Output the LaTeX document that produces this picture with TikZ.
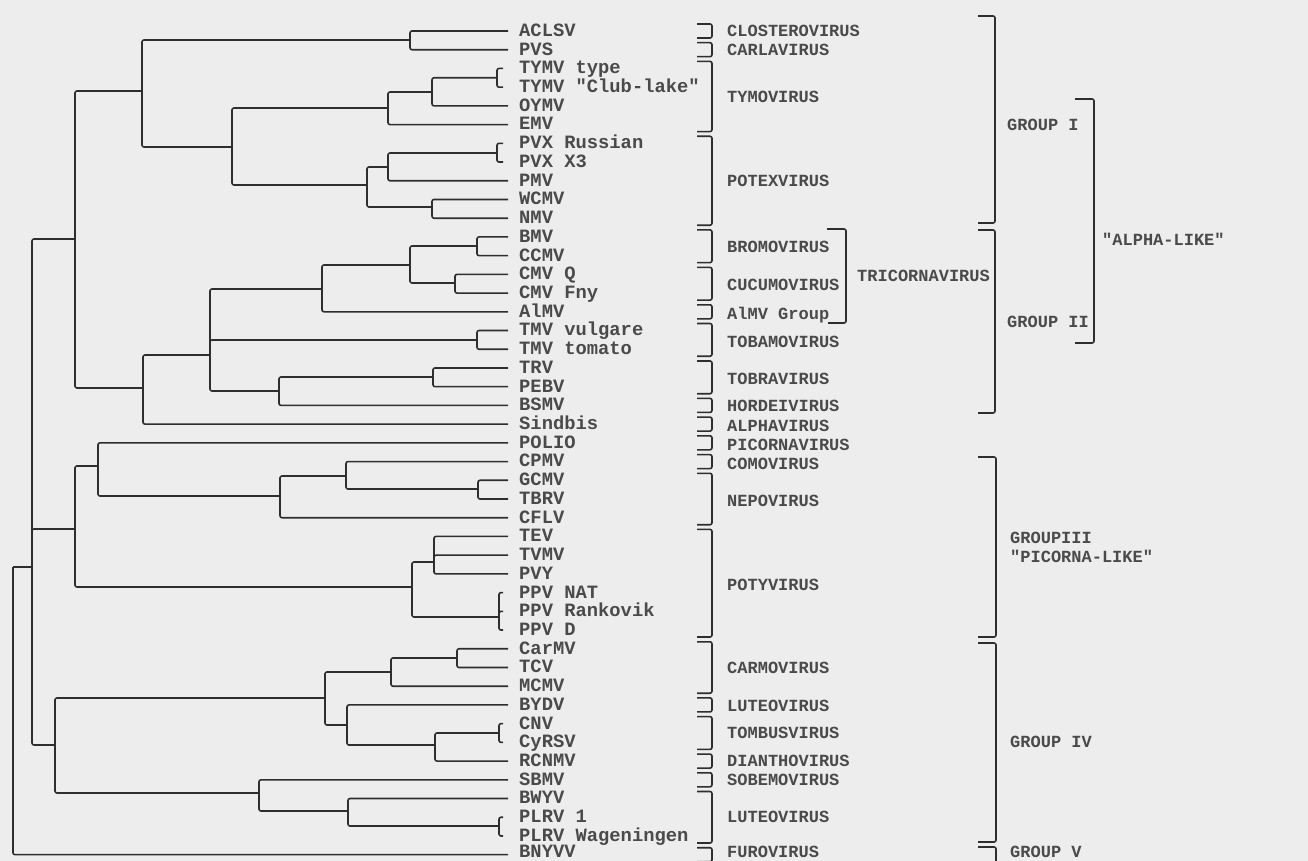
\documentclass[tikz,border=0pt]{standalone}
\usepackage{fontspec}
\newfontfamily\typ{Liberation Mono}
\definecolor{bgc}{HTML}{EDEDED}
\definecolor{linec}{HTML}{2E2E2E}
\definecolor{textc}{HTML}{4A4A4A}
\tikzset{
  br/.style={line width=1.6pt, draw=linec, rounded corners=2pt},
  leaflab/.style={anchor=base west, inner sep=0pt, text=textc, font=\typ\bfseries\fontsize{18.8}{20}\selectfont},
  genlab/.style={anchor=base west, inner sep=0pt, text=textc, font=\typ\bfseries\fontsize{17}{19}\selectfont},
}
\newcommand\leafnode[4]{% name, y, text, end x
  \coordinate (#1) at (#4,#2);
  \node[leaflab] (#1t) at (519,{#2+5.4}) {#3};}
\newcommand\genusbr[5]{% name, top, bottom, label y, text
  \draw[br] (697,#2) -- (712,#2) -- (712,#3) -- (697,#3);
  \node[genlab] (#1) at (727,{#4+4.9}) {#5};}
\begin{document}
\begin{tikzpicture}[x=1pt,y=-1pt]
\fill[bgc] (0,0) rectangle (1308,861);
\useasboundingbox (0,0) rectangle (1308,861);

% ---------- leaves ----------
\leafnode{L1}{31}{ACLSV}{508}
\leafnode{L2}{49.72}{PVS}{508}
\leafnode{L3}{68.44}{TYMV type}{503}
\leafnode{L4}{87.16}{TYMV "Club-lake"}{503}
\leafnode{L5}{105.88}{OYMV}{508}
\leafnode{L6}{124.6}{EMV}{508}
\leafnode{L7}{143.32}{PVX Russian}{503}
\leafnode{L8}{162.04}{PVX X3}{503}
\leafnode{L9}{180.76}{PMV}{508}
\leafnode{L10}{199.48}{WCMV}{508}
\leafnode{L11}{218.2}{NMV}{508}
\leafnode{L12}{236.92}{BMV}{508}
\leafnode{L13}{255.64}{CCMV}{508}
\leafnode{L14}{274.36}{CMV Q}{508}
\leafnode{L15}{293.08}{CMV Fny}{508}
\leafnode{L16}{311.8}{AlMV}{508}
\leafnode{L17}{330.52}{TMV vulgare}{508}
\leafnode{L18}{349.24}{TMV tomato}{508}
\leafnode{L19}{367.96}{TRV}{508}
\leafnode{L20}{386.68}{PEBV}{508}
\leafnode{L21}{405.4}{BSMV}{508}
\leafnode{L22}{424.12}{Sindbis}{508}
\leafnode{L23}{442.84}{POLIO}{508}
\leafnode{L24}{461.56}{CPMV}{508}
\leafnode{L25}{480.28}{GCMV}{508}
\leafnode{L26}{499}{TBRV}{508}
\leafnode{L27}{517.72}{CFLV}{508}
\leafnode{L28}{536.44}{TEV}{508}
\leafnode{L29}{555.16}{TVMV}{508}
\leafnode{L30}{573.88}{PVY}{508}
\leafnode{L31}{592.6}{PPV NAT}{503}
\leafnode{L32}{611.32}{PPV Rankovik}{503}
\leafnode{L33}{630.04}{PPV D}{503}
\leafnode{L34}{648.76}{CarMV}{508}
\leafnode{L35}{667.48}{TCV}{508}
\leafnode{L36}{686.2}{MCMV}{508}
\leafnode{L37}{704.92}{BYDV}{508}
\leafnode{L38}{723.64}{CNV}{503}
\leafnode{L39}{742.36}{CyRSV}{503}
\leafnode{L40}{761.08}{RCNMV}{508}
\leafnode{L41}{779.8}{SBMV}{508}
\leafnode{L42}{798.52}{BWYV}{508}
\leafnode{L43}{817.24}{PLRV 1}{503}
\leafnode{L44}{835.96}{PLRV Wageningen}{503}
\coordinate (L45) at (508,854.68);
\node[leaflab] (L45t) at (519,857.6) {BNYVV};

% ---------- internal nodes ----------
\coordinate (nA) at (410,40);
\coordinate (nTY) at (497,77.8);
\coordinate (n432a) at (432,92);
\coordinate (n388a) at (388,108);
\coordinate (nPX) at (497,153);
\coordinate (n388b) at (388,167);
\coordinate (n432b) at (432,207);
\coordinate (n367) at (367,185);
\coordinate (n232) at (232,147);
\coordinate (n142) at (142,91);
\coordinate (n477a) at (477,246);
\coordinate (n455) at (455,283);
\coordinate (n410b) at (410,265);
\coordinate (n322) at (322,289);
\coordinate (n477b) at (477,340);
\coordinate (n433) at (433,377);
\coordinate (n279) at (279,391);
\coordinate (n210) at (210,355);
\coordinate (n143) at (143,388);
\coordinate (n75a) at (75,239);
\coordinate (n478) at (478,489);
\coordinate (n346) at (346,476);
\coordinate (n280) at (280,496);
\coordinate (n98) at (98,466);
\coordinate (n434) at (434,562);
\coordinate (nPP) at (499,617);
\coordinate (n412) at (412,587);
\coordinate (n75b) at (75,529);
\coordinate (n457) at (457,658);
\coordinate (n391) at (391,672);
\coordinate (nCN) at (499,733);
\coordinate (n435) at (435,745);
\coordinate (n347) at (347,725);
\coordinate (n325) at (325,698);
\coordinate (nPL) at (499,826);
\coordinate (n348) at (348,811);
\coordinate (n259) at (259,793);
\coordinate (n55) at (55,745);
\coordinate (n32) at (32,567);
\coordinate (root) at (13,567);

% ---------- connectors ----------
\draw[br] (nA) |- (L1); \draw[br] (nA) |- (L2);
\draw[br] (L3) -| (nTY) |- (L4);
\draw[br] (n432a) |- (nTY); \draw[br] (n432a) |- (L5);
\draw[br] (n388a) |- (n432a); \draw[br] (n388a) |- (L6);
\draw[br] (L7) -| (nPX) |- (L8);
\draw[br] (n388b) |- (nPX); \draw[br] (n388b) |- (L9);
\draw[br] (n432b) |- (L10); \draw[br] (n432b) |- (L11);
\draw[br] (n367) |- (n388b); \draw[br] (n367) |- (n432b);
\draw[br] (n232) |- (n388a); \draw[br] (n232) |- (n367);
\draw[br] (n142) |- (nA); \draw[br] (n142) |- (n232);
\draw[br] (n477a) |- (L12); \draw[br] (n477a) |- (L13);
\draw[br] (n455) |- (L14); \draw[br] (n455) |- (L15);
\draw[br] (n410b) |- (n477a); \draw[br] (n410b) |- (n455);
\draw[br] (n322) |- (n410b); \draw[br] (n322) |- (L16);
\draw[br] (n477b) |- (L17); \draw[br] (n477b) |- (L18);
\draw[br] (n433) |- (L19); \draw[br] (n433) |- (L20);
\draw[br] (n279) |- (n433); \draw[br] (n279) |- (L21);
\draw[br] (n210) |- (n322); \draw[br] (n210) |- (n477b); \draw[br] (n210) |- (n279);
\draw[br] (n143) |- (n210); \draw[br] (n143) |- (L22);
\draw[br] (n75a) |- (n142); \draw[br] (n75a) |- (n143);
\draw[br] (n478) |- (L25); \draw[br] (n478) |- (L26);
\draw[br] (n346) |- (L24); \draw[br] (n346) |- (n478);
\draw[br] (n280) |- (n346); \draw[br] (n280) |- (L27);
\draw[br] (n98) |- (L23); \draw[br] (n98) |- (n280);
\draw[br] (n434) |- (L28); \draw[br] (n434) |- (L29); \draw[br] (n434) |- (L30);
\draw[br] (L31) -| (nPP) |- (L33); \draw[br] (nPP) |- (L32);
\draw[br] (n412) |- (n434); \draw[br] (n412) |- (nPP);
\draw[br] (n75b) |- (n98); \draw[br] (n75b) |- (n412);
\draw[br] (n457) |- (L34); \draw[br] (n457) |- (L35);
\draw[br] (n391) |- (n457); \draw[br] (n391) |- (L36);
\draw[br] (L38) -| (nCN) |- (L39);
\draw[br] (n435) |- (nCN); \draw[br] (n435) |- (L40);
\draw[br] (n347) |- (L37); \draw[br] (n347) |- (n435);
\draw[br] (n325) |- (n391); \draw[br] (n325) |- (n347);
\draw[br] (L43) -| (nPL) |- (L44);
\draw[br] (n348) |- (L42); \draw[br] (n348) |- (nPL);
\draw[br] (n259) |- (L41); \draw[br] (n259) |- (n348);
\draw[br] (n55) |- (n325); \draw[br] (n55) |- (n259);
\draw[br] (n32) |- (n75a); \draw[br] (n32) |- (n75b); \draw[br] (n32) |- (n55);
\draw[br] (root) -- (n32); \draw[br] (root) |- (L45);

% ---------- genus brackets ----------
\genusbr{g1}{24}{38}{32}{CLOSTEROVIRUS}
\genusbr{g2}{42.7}{56.7}{51}{CARLAVIRUS}
\genusbr{g3}{61.4}{131.6}{98}{TYMOVIRUS}
\genusbr{g4}{136.3}{225.2}{182}{POTEXVIRUS}
\genusbr{g5}{229.9}{262.6}{248}{BROMOVIRUS}
\genusbr{g6}{267.4}{300.1}{286}{CUCUMOVIRUS}
\genusbr{g7}{304.8}{318.8}{315}{AlMV Group}
\genusbr{g8}{323.5}{356.2}{343}{TOBAMOVIRUS}
\genusbr{g9}{361}{393.7}{380}{TOBRAVIRUS}
\genusbr{g10}{398.4}{412.4}{407}{HORDEIVIRUS}
\genusbr{g11}{417.1}{431.1}{427}{ALPHAVIRUS}
\genusbr{g12}{435.8}{449.8}{446}{PICORNAVIRUS}
\genusbr{g13}{454.6}{468.6}{465}{COMOVIRUS}
\genusbr{g14}{473.3}{524.7}{502}{NEPOVIRUS}
\genusbr{g15}{529.4}{637}{586}{POTYVIRUS}
\genusbr{g16}{641.8}{693.2}{669}{CARMOVIRUS}
\genusbr{g17}{697.9}{711.9}{707}{LUTEOVIRUS}
\genusbr{g18}{716.6}{749.4}{734}{TOMBUSVIRUS}
\genusbr{g19}{754.1}{768.1}{762}{DIANTHOVIRUS}
\genusbr{g20}{772.8}{786.8}{781}{SOBEMOVIRUS}
\genusbr{g21}{791.5}{843}{818}{LUTEOVIRUS}
\draw[br] (697,847.7) -- (712,847.7) -- (712,861.7) -- (697,861.7);
\node[genlab] (g22) at (727,857.8) {FUROVIRUS};

% ---------- higher groups ----------
\draw[br] (827,229) -- (846,229) -- (846,323) -- (828,323);
\node[genlab] (tri) at (857,{277+4.9}) {TRICORNAVIRUS};
\draw[br] (978,16) -- (995,16) -- (995,223) -- (978,223);
\node[genlab] (gI) at (1007,{126+4.9}) {GROUP I};
\draw[br] (978,230) -- (995,230) -- (995,413) -- (978,413);
\node[genlab] (gII) at (1007,{323+4.9}) {GROUP II};
\draw[br] (1075,99) -- (1094,99) -- (1094,343) -- (1075,343);
\node[genlab] (alpha) at (1102,{241+4.9}) {"ALPHA-LIKE"};
\draw[br] (978,457) -- (996,457) -- (996,637) -- (978,637);
\node[genlab] (gIII) at (1010,{539+4.9}) {GROUPIII};
\node[genlab] (picl) at (1010,{558+4.9}) {"PICORNA-LIKE"};
\draw[br] (978,643) -- (996,643) -- (996,842) -- (978,842);
\node[genlab] (gIV) at (1010,{743+4.9}) {GROUP IV};
\draw[br] (978,847) -- (996,847) -- (996,875);
\node[genlab] (gV) at (1010,857.8) {GROUP V};
\end{tikzpicture}
\end{document}
